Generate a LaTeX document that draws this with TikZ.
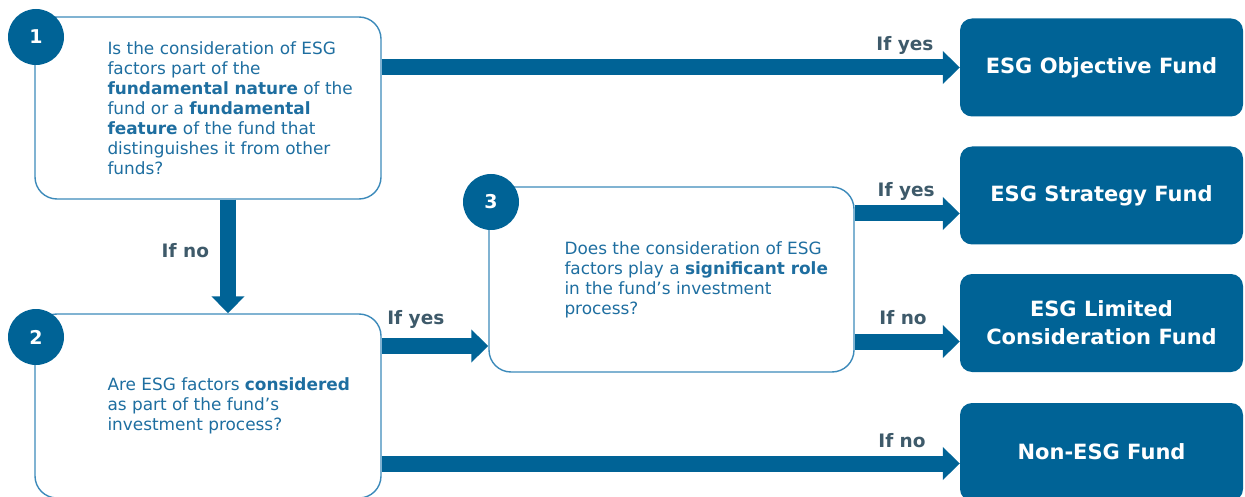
\documentclass[tikz,border=0pt]{standalone}
\usepackage{fontspec}
\setmainfont{DejaVu Sans}
\usetikzlibrary{arrows.meta,positioning}
\definecolor{esgblue}{RGB}{0,99,150}
\definecolor{esgtext}{RGB}{30,110,160}
\definecolor{esgline}{RGB}{60,138,186}
\definecolor{esglabel}{RGB}{62,90,106}
\begin{document}
\begin{tikzpicture}[x=1pt,y=-1pt,
		question/.style={draw=esgline, line width=1.4pt, rounded corners=22pt, minimum width=346pt, inner sep=0pt},
		qtext/.style={text=esgtext, font=\fontsize{16.9}{20}\selectfont, align=left, anchor=west, inner sep=0pt},
		stepnum/.style={circle, fill=esgblue, text=white, minimum size=56pt, inner sep=0pt, font=\fontsize{19}{24}\selectfont\bfseries},
		outcome/.style={fill=esgblue, rounded corners=12pt, minimum width=283pt, minimum height=98pt, text=white, align=center, font=\fontsize{21}{28}\selectfont\bfseries},
		flow/.style={draw=esgblue, line width=16pt, -{Triangle[width=32pt,length=17pt]}},
		answer/.style={text=esglabel, font=\fontsize{18.5}{20}\selectfont\bfseries, inner sep=0pt, outer sep=0pt, text height=13pt, text depth=4pt}]
	\useasboundingbox (0,0) rectangle (1245,497);
	% question boxes
	\node[question, minimum height=182pt] (q1) at (208,108) {};
	\node[question, minimum height=184pt] (q2) at (208,406) {};
	\node[question, minimum width=365pt, minimum height=185pt] (q3) at (671.5,279.5) {};
	% question texts
	\node[qtext] (t1) at ([xshift=73pt]q1.west) {Is the consideration of ESG\\factors part of the\\\textbf{fundamental nature} of the\\fund or a \textbf{fundamental}\\\textbf{feature} of the fund that\\distinguishes it from other\\funds?};
	\node[qtext] (t2) at ([xshift=73pt]q2.west) {Are ESG factors \textbf{considered}\\as part of the fund’s\\investment process?};
	\node[qtext] (t3) at ([xshift=76pt]q3.west) {Does the consideration of ESG\\factors play a \textbf{significant role}\\in the fund’s investment\\process?};
	% step numbers
	\foreach \index/\pos in {1/{36,37}, 2/{36,337}, 3/{491,202}}
	{
		\node[stepnum] (num_\index) at (\pos) {\index};
	}
	% fund types
	\foreach \name/\ypos/\label in {obj/67.5/ESG Objective Fund, strat/195.5/ESG Strategy Fund, lim/323/{ESG Limited\\Consideration Fund}, non/452/Non-ESG Fund}
	{
		\node[outcome] (\name) at (1101.5,\ypos) {\label};
	}
	% arrows
	\draw[flow] (obj.west -| q1.east) -- node[answer, pos=0.905, above=13pt] {If yes} (obj.west);
	\draw[flow] ([xshift=20pt]q1.south) -- node[answer, pos=0.47, left=19pt] {If no} ([xshift=20pt]q1.south |- q2.north);
	\draw[flow] ([yshift=60pt]q2.east) -- node[answer, pos=0.32, above=18pt] {If yes} ([yshift=60pt]q2.east -| q3.west);
	\draw[flow] ([yshift=-18pt]strat.west -| q3.east) -- node[answer, pos=0.49, above=12.5pt] {If yes} ([yshift=-18pt]strat.west);
	\draw[flow] ([yshift=-18.5pt]lim.west -| q3.east) -- node[answer, pos=0.46, above=13.5pt] {If no} ([yshift=-18.5pt]lim.west);
	\draw[flow] ([yshift=-11.5pt]non.west -| q2.east) -- node[answer, pos=0.9, above=12.5pt] {If no} ([yshift=-11.5pt]non.west);
\end{tikzpicture}
\end{document}
